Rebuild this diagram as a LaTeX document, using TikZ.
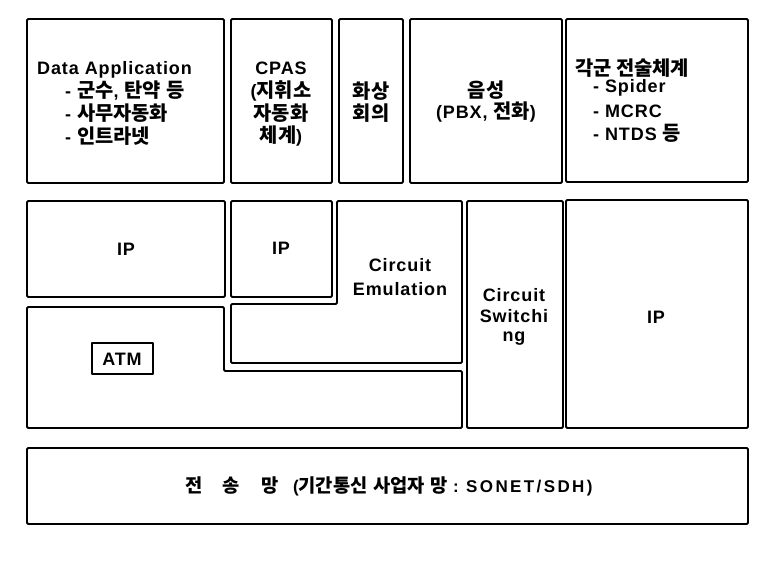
\documentclass[tikz,border=0pt]{standalone}
\usepackage{fontspec}
\setmainfont{Liberation Sans}[LetterSpace=5]
\newfontfamily\kr{Noto Sans CJK KR Bold}[Scale=1.1]
\newcommand\K[1]{{\kr #1}}
\begin{document}
\begin{tikzpicture}[x=1pt,y=-1pt,
  box/.style={draw=black, line width=1.9pt, line join=round, rounded corners=1.2pt},
  thinbox/.style={draw=black, line width=1.5pt, line join=round},
  lbl/.style={font=\bfseries\fontsize{18}{21}\selectfont, inner sep=0pt, text=black},
  bot/.style={font=\bfseries\fontsize{17}{20}\selectfont, inner sep=0pt, text=black}]
\useasboundingbox[fill=white] (0,0) rectangle (764,572);
% top row
\draw[box] (27,19) rectangle (224,183);
\draw[box] (231,19) rectangle (332,183);
\draw[box] (339,19) rectangle (403,183);
\draw[box] (410,19) rectangle (562,183);
\draw[box] (566,19) rectangle (748,182);
% middle
\draw[box] (27,201) rectangle (225,297);
\draw[box] (231,201) rectangle (332,297);
\draw[box] (337,201) -- (462,201) -- (462,363) -- (231,363) -- (231,304) -- (337,304) -- cycle;
\draw[box] (27,307) -- (224,307) -- (224,371) -- (462,371) -- (462,428) -- (27,428) -- cycle;
\draw[box] (467,201) rectangle (563,428);
\draw[box] (566,200) rectangle (748,428);
\draw[thinbox] (92,343) rectangle (153,374);
% bottom
\draw[box] (27,448) rectangle (748,524);
% texts top row
\node[lbl,anchor=west] (da) at (37,70) {Data Application};
\node[lbl,anchor=west] (da1) at (65,91) {- \K{군수}, \K{탄약} \K{등}};
\node[lbl,anchor=west] (da2) at (65,113) {- \K{사무자동화}};
\node[lbl,anchor=west] (da3) at (65,136) {- \K{인트라넷}};
\node[lbl] (cp) at (281,68) {CPAS};
\node[lbl] (cp1) at (281,91) {(\K{지휘소}};
\node[lbl] (cp2) at (281,113) {\K{자동화}};
\node[lbl] (cp3) at (281,136) {\K{체계})};
\node[lbl] (vc1) at (371,91) {\K{화상}};
\node[lbl] (vc2) at (371,113) {\K{회의}};
\node[lbl] (vo1) at (486,90) {\K{음성}};
\node[lbl] (vo2) at (486,112) {(PBX, \K{전화})};
\node[lbl,anchor=west] (ts) at (575,68) {\K{각군 전술체계}};
\node[lbl,anchor=west] (ts1) at (593,88) {- Spider};
\node[lbl,anchor=west] (ts2) at (593,111) {- MCRC};
\node[lbl,anchor=west] (ts3) at (593,133) {- NTDS \K{등}};
% middle texts
\node[lbl] (ip1) at (126,249) {IP};
\node[lbl] (ip2) at (281,248) {IP};
\node[lbl] (ce1) at (400,265) {Circuit};
\node[lbl] (ce2) at (400,289) {Emulation};
\node[lbl] (cs1) at (514,295) {Circuit};
\node[lbl] (cs2) at (514,316) {Switchi};
\node[lbl] (cs3) at (514,339) {ng};
\node[lbl] (ip3) at (656,317) {IP};
\node[lbl] (atm) at (122,359) {ATM};
% bottom text
\node[bot] (tn) at (389,486) {\K{전}\hspace{20pt}\K{송}\hspace{22pt}\K{망}\hspace{14pt}(\K{기간통신} \K{사업자} \K{망} : {\addfontfeature{LetterSpace=14}SONET/SDH)}};
\end{tikzpicture}
\end{document}
